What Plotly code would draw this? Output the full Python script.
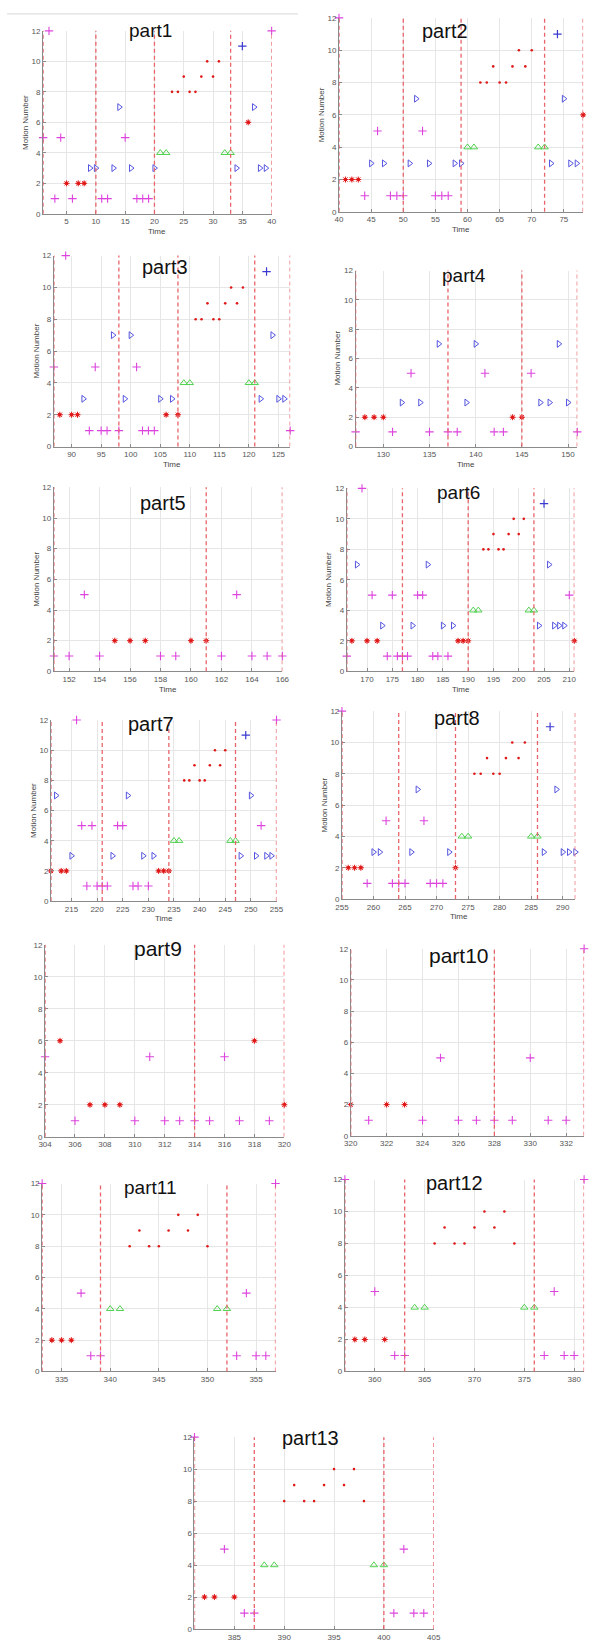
import plotly.graph_objects as go

W, H = 596, 1647

PART_NAMES = ["part1", "part2", "part3", "part4", "part5", "part6", "part7",
              "part8", "part9", "part10", "part11", "part12", "part13"]
PART_START = [1, 40, 87, 127, 151, 166, 211, 255, 304, 320, 333, 357, 381]
PART_END = [40, 78, 127, 151, 166, 211, 255, 292, 320, 333, 357, 381, 405]
TICK_STEP = [5, 5, 5, 5, 2, 5, 5, 5, 2, 2, 5, 5, 5]
Y_TICKS = [0, 2, 4, 6, 8, 10, 12]

BOUNDARIES = [
    [1, 10, 20, 33, 40],
    [40, 50, 59, 72, 78],
    [87, 98, 108, 121, 127],
    [127, 137, 145, 151],
    [151, 161, 166],
    [166, 177, 190, 203, 211],
    [211, 221, 234, 247, 255],
    [255, 264, 273, 286, 292],
    [304, 314, 320],
    [320, 328, 333],
    [333, 339, 352, 357],
    [357, 363, 376, 381],
    [381, 387, 400, 405],
]

MOTION_1 = [5, 12, 1, 5, 2, 1, 2, 2, 3, 3, 1, 1, 3, 7, 5, 3, 1, 1, 1, 3,
            4, 4, 8, 8, 9, 8, 8, 9, 10, 9, 10, 4, 4, 3, 11, 6, 7, 3, 3, 12]
MOTION_2 = [12, 2, 2, 2, 1, 3, 5, 3, 1, 1, 1, 3, 7, 5, 3, 1, 1, 1, 3, 3,
            4, 4, 8, 8, 9, 8, 8, 9, 10, 9, 10, 4, 4, 3, 11, 7, 3, 3, 6]
MOTION_3 = [5, 2, 12, 2, 2, 3, 1, 5, 1, 1, 7, 1, 3, 7, 5, 1, 1, 1, 3, 2,
            3, 2, 4, 4, 8, 8, 9, 8, 8, 9, 10, 9, 10, 4, 4, 3, 11, 7, 3, 3, 1]
MOTION_4 = [1, 2, 2, 2, 1, 3, 5, 3, 1, 7, 1, 1, 3, 7, 5, 1, 1, 2, 2, 5,
            3, 3, 7, 3, 1]
MOTION_5 = [1, 1, 5, 1, 2, 2, 2, 1, 1, 2, 2, 1, 5, 1, 1, 1]
MOTION_6 = [1, 2, 7, 12, 2, 5, 2, 3, 1, 5, 1, 1, 1, 3, 5, 5, 7, 1, 1, 3,
            1, 3, 2, 2, 2, 4, 4, 8, 8, 9, 8, 8, 9, 10, 9, 10, 4, 4, 3, 11,
            7, 3, 3, 3, 5, 2]
MOTION_7 = [2, 7, 2, 2, 3, 12, 5, 1, 5, 1, 1, 1, 3, 5, 5, 7, 1, 1, 3, 1,
            3, 2, 2, 2, 4, 4, 8, 8, 9, 8, 8, 9, 10, 9, 10, 4, 4, 3, 11, 7,
            3, 5, 3, 3, 12]
MOTION_8 = [12, 2, 2, 2, 1, 3, 3, 5, 1, 1, 1, 3, 7, 5, 1, 1, 1, 3, 2, 4,
            4, 8, 8, 9, 8, 8, 9, 10, 9, 10, 4, 4, 3, 11, 7, 3, 3, 3]
MOTION_9 = [5, 6, 1, 2, 2, 2, 1, 5, 1, 1, 1, 1, 5, 1, 6, 1, 2]
MOTION_10 = [2, 1, 2, 2, 1, 5, 1, 1, 1, 1, 5, 1, 1, 12]
MOTION_11 = [12, 2, 2, 2, 5, 1, 1, 4, 4, 8, 9, 8, 8, 9, 10, 9, 10, 8, 4, 4,
             1, 5, 1, 1, 12]
MOTION_12 = [12, 2, 2, 5, 2, 1, 1, 4, 4, 8, 9, 8, 8, 9, 10, 9, 10, 8, 4, 4,
             1, 5, 1, 1, 12]
MOTION_13 = [12, 2, 2, 5, 2, 1, 1, 4, 4, 8, 9, 8, 8, 9, 10, 9, 10, 8, 4, 4,
             1, 5, 1, 1]

MOTIONS = [MOTION_1, MOTION_2, MOTION_3, MOTION_4, MOTION_5, MOTION_6, MOTION_7,
           MOTION_8, MOTION_9, MOTION_10, MOTION_11, MOTION_12, MOTION_13]

# ---- layout (pixel boxes: left, right, top, bottom) ----
BOXES = [
    (37, 271, 27, 211), (340, 590, 14, 209),
    (48, 290, 253, 445), (357, 584, 268, 445),
    (48, 282, 486, 671), (348, 581, 487, 671),
    (45, 276, 720, 902), (343, 582, 711, 900),
    (39, 284, 946, 1139), (352, 591, 950, 1138),
    (36, 275, 1186, 1375), (346, 591, 1182, 1375),
    (192, 437, 1441, 1634),
]
TITLE_POS = [
    (147, 27, 19), (449, 27, 20),
    (162, 264, 20), (468, 273, 19),
    (160, 502, 20), (462, 491, 19),
    (147, 724, 20), (461, 718, 20),
    (155, 950, 21), (463, 957, 21),
    (146, 1190, 19), (458, 1185, 20),
    (311, 1442, 20),
]
HAS_AXIS_TITLES = [True] * 8 + [False] * 5

FONT = "Arial, Liberation Sans, sans-serif"

# marker classes by motion number
CLASSES = [
    dict(vals={1, 5, 12}, symbol="cross-thin-open", color="#dd44dd", size=6, lw=1.1),
    dict(vals={2, 6}, symbol="circle", color="#e01818", size=3.5, lw=0),
    dict(vals={2, 6}, symbol="asterisk-open", color="#e01818", size=5, lw=1.0),
    dict(vals={3, 7}, symbol="triangle-right-open", color="#5555e0", size=6, lw=1.0),
    dict(vals={4}, symbol="triangle-up-open", color="#4fd24f", size=6.5, lw=1.0),
    dict(vals={8, 9, 10}, symbol="circle", color="#e01818", size=2.6, lw=0),
    dict(vals={11}, symbol="cross-thin-open", color="#3a3ad0", size=6, lw=1.2),
]


def px_x(x):
    return x / W


def px_y(y):
    return 1 - y / H


fig = go.Figure()
layout = dict(width=W, height=H, margin=dict(l=0, r=0, t=0, b=0),
              paper_bgcolor="white", plot_bgcolor="white", showlegend=False,
              font=dict(family=FONT))
shapes = []
annotations = []

for i in range(13):
    suf = "" if i == 0 else str(i + 1)
    left, right, top, bottom = BOXES[i]
    start, end = PART_START[i], PART_END[i]
    motion = MOTIONS[i]
    times = [start + k for k in range(len(motion))]

    for c in CLASSES:
        xs = [t for t, m in zip(times, motion) if m in c["vals"]]
        ys = [m for m in motion if m in c["vals"]]
        if not xs:
            continue
        marker = dict(symbol=c["symbol"], size=c["size"], color=c["color"])
        if c["lw"] > 0:
            marker["line"] = dict(color=c["color"], width=c["lw"])
        fig.add_trace(go.Scatter(x=xs, y=ys, mode="markers", marker=marker,
                                 xaxis="x" + suf, yaxis="y" + suf,
                                 cliponaxis=False, hoverinfo="x+y"))

    step = TICK_STEP[i]
    first = ((start + step - 1) // step) * step
    tickvals = list(range(first, end + 1, step))
    layout["xaxis" + suf] = dict(
        domain=[px_x(left), px_x(right)], anchor="y" + suf,
        range=[start, end], tickvals=tickvals,
        showgrid=True, gridcolor="#e6e6e6", gridwidth=1, zeroline=False,
        showline=True, linecolor="#8a8a8a", linewidth=1,
        ticks="inside", ticklen=3, tickcolor="#8a8a8a",
        tickfont=dict(size=8, color="#555555", family=FONT))
    layout["yaxis" + suf] = dict(
        domain=[px_y(bottom), px_y(top)], anchor="x" + suf,
        range=[0, 12], tickvals=Y_TICKS,
        showgrid=True, gridcolor="#e6e6e6", gridwidth=1, zeroline=False,
        showline=True, linecolor="#8a8a8a", linewidth=1,
        ticks="inside", ticklen=3, tickcolor="#8a8a8a",
        tickfont=dict(size=8, color="#555555", family=FONT))

    for b in BOUNDARIES[i]:
        shapes.append(dict(type="line", xref="x" + suf, yref="y" + suf + " domain",
                           x0=b, x1=b, y0=0, y1=1,
                           line=dict(color="#e8646a", width=1.3, dash="4px,3px")))

    tx, ty, ts = TITLE_POS[i]
    annotations.append(dict(text=PART_NAMES[i], xref="paper", yref="paper",
                            x=px_x(tx), y=px_y(ty), xanchor="center", yanchor="middle",
                            showarrow=False, font=dict(size=ts, color="#111111", family=FONT)))
    if HAS_AXIS_TITLES[i]:
        annotations.append(dict(text="Time", xref="paper", yref="paper",
                                x=px_x((left + right) / 2), y=px_y(bottom + 18),
                                xanchor="center", yanchor="middle", showarrow=False,
                                font=dict(size=8, color="#444444", family=FONT)))
        annotations.append(dict(text="Motion Number", xref="paper", yref="paper",
                                x=px_x(left - 18), y=px_y((top + bottom) / 2),
                                xanchor="center", yanchor="middle", showarrow=False,
                                textangle=-90,
                                font=dict(size=8, color="#444444", family=FONT)))

# light separator line at the top of the image
shapes.append(dict(type="line", xref="paper", yref="paper",
                   x0=0, x1=px_x(298), y0=px_y(10), y1=px_y(10),
                   line=dict(color="#d8d8d8", width=1)))

layout["shapes"] = shapes
layout["annotations"] = annotations
fig.update_layout(**layout)
fig.write_html("out.html")
